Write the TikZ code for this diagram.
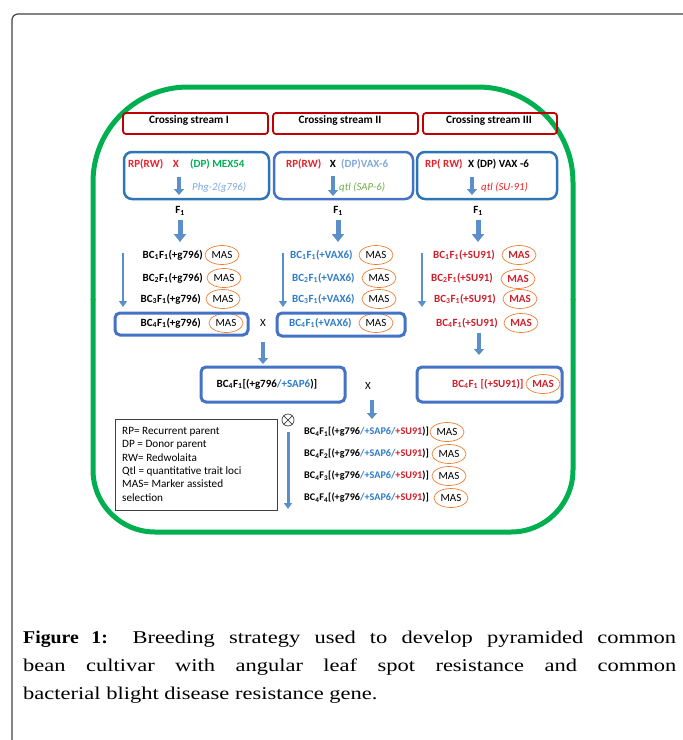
\documentclass[tikz,border=0pt]{standalone}
\usepackage{fontspec}
\setmainfont{Carlito}
\newfontfamily\capfont[FakeStretch=1.25]{Liberation Serif}
\usetikzlibrary{arrows.meta,shapes.geometric}
\definecolor{framegray}{HTML}{404040}
\definecolor{bigreen}{HTML}{00B050}
\definecolor{darkred}{HTML}{C00000}
\definecolor{topblue}{HTML}{2E75B6}
\definecolor{boxblue}{HTML}{4472C4}
\definecolor{arrowblue}{HTML}{5B8FC9}
\definecolor{rpred}{HTML}{E8202A}
\definecolor{bcred}{HTML}{D0202A}
\definecolor{bcblue}{HTML}{2E7CC8}
\definecolor{lightblue}{HTML}{7FA7DC}
\definecolor{qtlgreen}{HTML}{70AD47}
\definecolor{masor}{HTML}{ED7D31}
\tikzset{
  txt/.style={inner sep=0pt, font=\fontsize{11}{13}\selectfont\bfseries},
  tw/.style={txt, anchor=west},
  te/.style={txt, anchor=east},
  itw/.style={inner sep=0pt, anchor=west, font=\fontsize{10.8}{13}\selectfont\itshape},
  mas/.style={ellipse, draw=masor, line width=0.7pt, minimum width=34pt, minimum height=19pt, inner sep=0pt, font=\fontsize{11}{13}\selectfont},
  masred/.style={mas, text=bcred, font=\fontsize{11}{13}\selectfont\bfseries},
  redbox/.style={draw=darkred, line width=1.8pt, rounded corners=3pt, inner sep=0pt},
  headtxt/.style={inner sep=0pt, font=\fontsize{11.3}{13}\selectfont\bfseries},
  topbox/.style={draw=topblue, line width=2.5pt, rounded corners=8pt, inner sep=0pt},
  bluebox/.style={draw=boxblue, line width=3pt, rounded corners=5pt, inner sep=0pt},
  blk/.style={draw=arrowblue, line width=5pt, -{Triangle[width=12pt,length=8pt]}},
  blksmall/.style={draw=arrowblue, line width=4pt, -{Triangle[width=10pt,length=6pt]}},
  thinarr/.style={draw=arrowblue, line width=2.6pt, -{Triangle[width=8pt,length=6pt]}},
  captxt/.style={inner sep=0pt, anchor=base west, font=\capfont\fontsize{18}{28}\selectfont},
}
\newcommand{\sbs}[1]{\textsubscript{#1}}
\begin{document}
\begin{tikzpicture}[x=1pt,y=-1pt]
\useasboundingbox (0,0) rectangle (683,740);
% outer frame
\draw[framegray, line width=1.2pt, rounded corners=6pt] (684,14) -- (12,14) -- (12,741);
% green rounded frame
\draw[bigreen, line width=5pt, rounded corners=95pt] (93,300) -- (93,87) -- (573,87) -- (573,300);
\draw[bigreen, line width=5pt, rounded corners=62pt] (573,299) -- (573,532) -- (93,532) -- (93,299);

% crossing stream headers
\node[redbox, minimum width=145pt, minimum height=21pt] (h1) at (195.5,123.5) {};
\node[redbox, minimum width=145pt, minimum height=21pt] (h2) at (345.5,123.5) {};
\node[redbox, minimum width=134pt, minimum height=21pt] (h3) at (490,123.5) {};
\node[headtxt] (h1t) at (189,120.5) {Crossing stream I};
\node[headtxt] (h2t) at (340,120.5) {Crossing stream II};
\node[headtxt] (h3t) at (489,120.5) {Crossing stream III};

% parent boxes
\node[topbox, minimum width=145pt, minimum height=47pt] (p1) at (196.5,175.5) {};
\node[topbox, draw=boxblue, minimum width=139pt, minimum height=47pt] (p2) at (343.5,175.5) {};
\node[topbox, minimum width=140pt, minimum height=47pt] (p3) at (487,175.5) {};

\node[tw, text=rpred] (r1) at (128,164) {RP(RW)};
\node[txt, text=rpred] (x1) at (176,164) {X};
\node[tw, text=bigreen] (d1) at (190,164) {(DP) MEX54};
\coordinate (a1s) at (179,177); \coordinate (a1e) at (179,195);
\draw[blksmall] (a1s) -- (a1e);
\node[itw, text=lightblue] (g1) at (192,187) {Phg-2(g796)};

\node[tw, text=rpred] (r2) at (286,164) {RP(RW)};
\node[txt] (x2) at (333,164) {X};
\node[tw, text=lightblue] (d2) at (341,164) {(DP)VAX-6};
\coordinate (a2s) at (333,176); \coordinate (a2e) at (333,196);
\draw[blksmall] (a2s) -- (a2e);
\node[itw, text=qtlgreen] (g2) at (339,187) {qtl (SAP-6)};

\node[tw, text=rpred] (r3) at (425,164) {RP( RW)};
\node[tw] (d3) at (468,164) {X (DP) VAX -6};
\coordinate (a3s) at (472,177); \coordinate (a3e) at (472,195);
\draw[blksmall] (a3s) -- (a3e);
\node[itw, text=rpred] (g3) at (481,187) {qtl (SU-91)};

% F1
\node[txt] (f1) at (180,211) {F\sbs{1}};
\node[txt] (f2) at (338,211) {F\sbs{1}};
\node[txt] (f3) at (478,211) {F\sbs{1}};
\coordinate (f1s) at (180,220); \coordinate (f2s) at (338,220); \coordinate (f3s) at (478,220);
\coordinate (f1e) at (180,242); \coordinate (f2e) at (338,242); \coordinate (f3e) at (478,242);
\draw[blk] (f1s) -- (f1e);
\draw[blk] (f2s) -- (f2e);
\draw[blk] (f3s) -- (f3e);

% backcross column 1
\node[te] (c11) at (203,255) {BC\sbs{1}F\sbs{1}(+g796)};
\node[te] (c12) at (203,278) {BC\sbs{2}F\sbs{1}(+g796)};
\node[te] (c13) at (201,299) {BC\sbs{3}F\sbs{1}(+g796)};
\node[te] (c14) at (201,323) {BC\sbs{4}F\sbs{1}(+g796)};
\node[mas] (m11) at (222,255) {MAS};
\node[mas] (m12) at (224,278) {MAS};
\node[mas] (m13) at (223,299) {MAS};
\node[mas] (m14) at (226,323) {MAS};
\coordinate (l1s) at (123,253); \coordinate (l1e) at (123,307);
\draw[thinarr] (l1s) -- (l1e);
\node[bluebox, minimum width=133pt, minimum height=22pt] (bx1) at (181.5,324) {};

% column 2
\node[tw, text=bcblue] (c21) at (290,255) {BC\sbs{1}F\sbs{1}(+VAX6)};
\node[tw, text=bcblue] (c22) at (292,278) {BC\sbs{2}F\sbs{1}(+VAX6)};
\node[tw, text=bcblue] (c23) at (292,299) {BC\sbs{3}F\sbs{1}(+VAX6)};
\node[tw, text=bcblue] (c24) at (289,323) {BC\sbs{4}F\sbs{1}(+VAX6)};
\node[mas] (m21) at (376,255) {MAS};
\node[mas] (m22) at (379,278) {MAS};
\node[mas] (m23) at (379,299) {MAS};
\node[mas] (m24) at (376,323) {MAS};
\coordinate (l2s) at (283,253); \coordinate (l2e) at (283,307);
\draw[thinarr] (l2s) -- (l2e);
\node[bluebox, minimum width=128pt, minimum height=23pt] (bx2) at (341,324.5) {};
\node[txt, font=\fontsize{11}{13}\selectfont] (xx1) at (263,323) {X};

% column 3
\node[tw, text=bcred] (c31) at (433,255) {BC\sbs{1}F\sbs{1}(+SU91)};
\node[tw, text=bcred] (c32) at (431,278) {BC\sbs{2}F\sbs{1}(+SU91)};
\node[tw, text=bcred] (c33) at (434,299) {BC\sbs{3}F\sbs{1}(+SU91)};
\node[tw, text=bcred] (c34) at (436,323) {BC\sbs{4}F\sbs{1}(+SU91)};
\node[masred] (m31) at (519,255) {MAS};
\node[masred] (m32) at (518,279) {MAS};
\node[masred] (m33) at (520,299) {MAS};
\node[masred] (m34) at (521,323) {MAS};
\coordinate (l3s) at (422,253); \coordinate (l3e) at (422,307);
\draw[thinarr] (l3s) -- (l3e);

% second level
\coordinate (k1s) at (263,342); \coordinate (k1e) at (263,364);
\draw[blksmall] (k1s) -- (k1e);
\coordinate (k3s) at (479,333); \coordinate (k3e) at (479,355);
\draw[blksmall] (k3s) -- (k3e);
\node[bluebox, minimum width=144pt, minimum height=35pt] (bx3) at (273,384.5) {};
\node[txt] (t3) at (267,384) {BC\sbs{4}F\sbs{1}[(+g796\textcolor{bcblue}{/+SAP6})]};
\node[txt, font=\fontsize{11}{13}\selectfont] (xx2) at (368,386) {X};
\node[bluebox, minimum width=145pt, minimum height=35pt] (bx4) at (489.5,384.5) {};
\node[tw, text=bcred] (t4) at (452,384) {BC\sbs{4}F\sbs{1} [(+SU91)]};
\node[masred] (m4) at (543,384) {MAS};
\coordinate (k2s) at (372,400); \coordinate (k2e) at (372,419);
\draw[blksmall] (k2s) -- (k2e);

% legend
\node[draw=framegray, line width=0.8pt, minimum width=162pt, minimum height=91pt, inner sep=0pt] (leg) at (196,464.5) {};
\node[anchor=north west, inner sep=0pt, align=left, font=\fontsize{11.2}{13.4}\selectfont] (legt) at (122,427) {RP= Recurrent parent\\DP = Donor parent\\RW= Redwolaita\\Qtl = quantitative trait loci\\MAS= Marker assisted\\selection};

% selfing
\node[circle, draw=framegray, line width=0.7pt, minimum size=12pt, inner sep=0pt] (ot) at (288,420) {};
\draw[framegray, line width=0.7pt] (ot.north west) -- (ot.south east) (ot.north east) -- (ot.south west);
\coordinate (sfs) at (288,432); \coordinate (sfe) at (288,509);
\draw[thinarr, line width=3pt] (sfs) -- (sfe);

\node[tw, font=\fontsize{10.2}{12}\selectfont\bfseries] (e1) at (304,432) {BC\sbs{4}F\sbs{1}[(+g796\textcolor{bcblue}{/+SAP6/}\textcolor{bcred}{+SU91})]};
\node[tw, font=\fontsize{10.2}{12}\selectfont\bfseries] (e2) at (304,454) {BC\sbs{4}F\sbs{2}[(+g796\textcolor{bcblue}{/+SAP6/}\textcolor{bcred}{+SU91})]};
\node[tw, font=\fontsize{10.2}{12}\selectfont\bfseries] (e3) at (304,476) {BC\sbs{4}F\sbs{3}[(+g796\textcolor{bcblue}{/+SAP6/}\textcolor{bcred}{+SU91})]};
\node[tw, font=\fontsize{10.2}{12}\selectfont\bfseries] (e4) at (304,498) {BC\sbs{4}F\sbs{4}[(+g796\textcolor{bcblue}{/+SAP6/}\textcolor{bcred}{+SU91})]};
\node[mas] (me1) at (447,432) {MAS};
\node[mas] (me2) at (449,454) {MAS};
\node[mas] (me3) at (449,476) {MAS};
\node[mas] (me4) at (451,498) {MAS};

% caption
\node[captxt] (cap1) at (23,643) {\makebox[653pt][s]{{\fontspec{Liberation Serif}[FakeStretch=1.1]\bfseries Figure 1:} Breeding strategy used to develop pyramided common}};
\node[captxt] (cap2) at (23,671) {\makebox[653pt][s]{bean cultivar with angular leaf spot resistance and common}};
\node[captxt] (cap3) at (23,699) {bacterial blight disease resistance gene.};
\end{tikzpicture}
\end{document}
